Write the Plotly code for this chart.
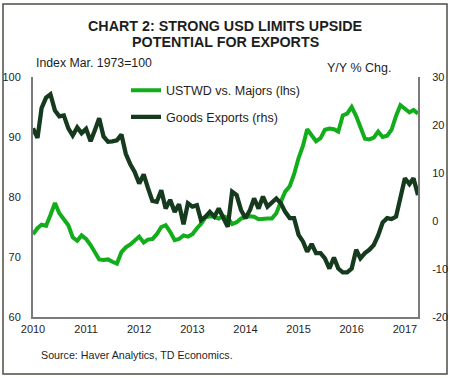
import plotly.graph_objects as go
import pandas as pd

# ---- data (monthly, Jan 2010 - Apr 2017) ----
months = pd.date_range("2010-01-01", periods=88, freq="MS").strftime("%Y-%m-%d").tolist()

ustwd = [73.8, 74.8, 75.4, 75.2, 77.0, 79.0, 77.3, 76.2, 75.3, 73.3, 72.7, 73.6,
         73.0, 72.0, 70.9, 69.6, 69.5, 69.6, 69.2, 68.9, 70.8, 71.6, 72.1, 72.8,
         73.4, 72.4, 72.9, 73.0, 73.8, 75.0, 75.3, 74.2, 72.8, 73.0, 73.6, 73.4,
         73.8, 74.8, 75.5, 76.6, 76.8, 76.7, 76.4, 76.8, 76.5, 75.5, 75.8, 76.4,
         76.7, 76.8, 76.7, 76.3, 76.4, 76.4, 76.4, 77.3, 79.2, 80.9, 81.8, 83.8,
         86.5, 88.6, 91.3, 90.2, 89.3, 89.8, 91.2, 91.4, 91.3, 90.9, 93.6, 93.9,
         95.0, 93.5, 91.8, 89.7, 89.6, 89.9, 90.9, 90.0, 90.2, 91.2, 93.5, 95.3,
         94.7, 94.1, 94.5, 93.9]

exports = [19.3, 17.3, 23.5, 25.7, 26.4, 23.0, 21.8, 22.0, 19.3, 17.8, 19.5, 18.3,
           19.2, 16.6, 18.8, 21.4, 17.6, 16.5, 16.6, 16.8, 18.0, 14.0, 11.8, 10.2,
           7.8, 9.7, 6.9, 4.2, 4.0, 6.4, 2.6, 4.4, 1.9, 3.5, -0.7, 3.7,
           3.0, 3.3, 0.2, 0.9, 1.9, 0.9, 2.6, 0.9, -1.2, 6.1, 5.4, 2.3,
           0.6, 2.3, 4.7, 2.6, 5.1, 3.0, 4.0, 4.7, 3.7, 1.9, 0.6, 0.6,
           -2.9, -4.3, -6.4, -4.8, -6.7, -6.7, -7.8, -9.9, -7.6, -9.9, -10.7, -10.7,
           -9.9, -6.0, -7.8, -6.7, -6.0, -5.0, -3.0, -0.3, 0.6, 0.4, 0.9, 4.5,
           8.9, 7.7, 8.9, 5.4]

year_ticks = ["2010-01-01", "2011-01-01", "2012-01-01", "2013-01-01",
              "2014-01-01", "2015-01-01", "2016-01-01", "2017-01-01"]
year_labels = ["2010", "2011", "2012", "2013", "2014", "2015", "2016", "2017"]

rhs_ticks = [-20, -10, 0, 10, 20, 30]
rhs_labels = ["-20", "-10", "0", "10", "20", "30"]

name_green = "USTWD vs. Majors (lhs)"
name_dark = "Goods Exports (rhs)"

GREEN = "#12ad1a"
DARK = "#163a1e"
AXIS = "#7a7a7a"
TXT = "#1e1e1e"
FONT = "Liberation Sans, Arial, sans-serif"

W, H = 450, 378
L, R, T, B = 33, 32, 77, 61
PW, PH = W - L - R, H - T - B


def px(xp):
    return (xp - L) / PW


def py(yp):
    return (H - B - yp) / PH


fig = go.Figure()
fig.add_trace(go.Scatter(x=months, y=ustwd, name=name_green, mode="lines",
                         line=dict(color=GREEN, width=4), yaxis="y", legend="legend"))
fig.add_trace(go.Scatter(x=months, y=exports, name=name_dark, mode="lines",
                         line=dict(color=DARK, width=4.3), yaxis="y2", legend="legend2"))

fig.update_layout(
    width=W, height=H,
    margin=dict(l=L, r=R, t=T, b=B, pad=0, autoexpand=False),
    paper_bgcolor="white", plot_bgcolor="white",
    font=dict(family=FONT, size=11, color=TXT),
    showlegend=True,
    xaxis=dict(range=[months[0], months[-1]], tickvals=year_ticks, ticktext=year_labels,
               showgrid=False, zeroline=False, showline=True, linecolor=AXIS, linewidth=2,
               ticks="", ticklabelstandoff=1, automargin=False, tickfont=dict(size=11, color=TXT)),
    yaxis=dict(range=[60, 100], dtick=10, showgrid=False, zeroline=False, showline=True,
               linecolor=AXIS, linewidth=2, ticks="", ticklabelstandoff=8, automargin=False,
               tickfont=dict(size=11, color=TXT)),
    yaxis2=dict(range=[-20, 30], tickvals=rhs_ticks, ticktext=rhs_labels,
                overlaying="y", side="right", showgrid=False,
                zeroline=False, showline=True, linecolor=AXIS, linewidth=2, ticks="",
                ticklabelstandoff=10, automargin=False, tickfont=dict(size=11, color=TXT)),
    legend=dict(x=px(126), y=py(90.7), xanchor="left", yanchor="middle",
                bgcolor="rgba(0,0,0,0)", borderwidth=0,
                font=dict(size=12.5, color=TXT, family=FONT)),
    legend2=dict(x=px(126), y=py(117.3), xanchor="left", yanchor="middle",
                 bgcolor="rgba(0,0,0,0)", borderwidth=0,
                 font=dict(size=12.5, color=TXT, family=FONT)),
)

ann = [
    dict(text="<b>CHART 2: STRONG USD LIMITS UPSIDE</b>", x=px(225), y=py(26),
         xanchor="center", yanchor="middle", font=dict(size=14.3, color=TXT)),
    dict(text="<b>POTENTIAL FOR EXPORTS</b>", x=px(225), y=py(42),
         xanchor="center", yanchor="middle", font=dict(size=14.3, color=TXT)),
    dict(text="Index Mar. 1973=100", x=px(34), y=py(63),
         xanchor="left", yanchor="middle", font=dict(size=12.3, color=TXT)),
    dict(text="Y/Y % Chg.", x=px(325), y=py(68),
         xanchor="left", yanchor="middle", font=dict(size=12.5, color=TXT)),
    dict(text="Source: Haver Analytics, TD Economics.", x=px(39), y=py(355),
         xanchor="left", yanchor="middle", font=dict(size=10.7, color=TXT)),
]
for a in ann:
    fig.add_annotation(xref="paper", yref="paper", showarrow=False, **a)

fig.add_shape(type="rect", xref="paper", yref="paper",
              x0=px(3), x1=px(447), y0=py(374), y1=py(4),
              line=dict(color="#4e4e44", width=1.5), fillcolor="rgba(0,0,0,0)", layer="below")

fig.write_html("out.html", config={"displayModeBar": False},
               post_script="document.body.style.margin='0';document.body.style.overflow='hidden';")
